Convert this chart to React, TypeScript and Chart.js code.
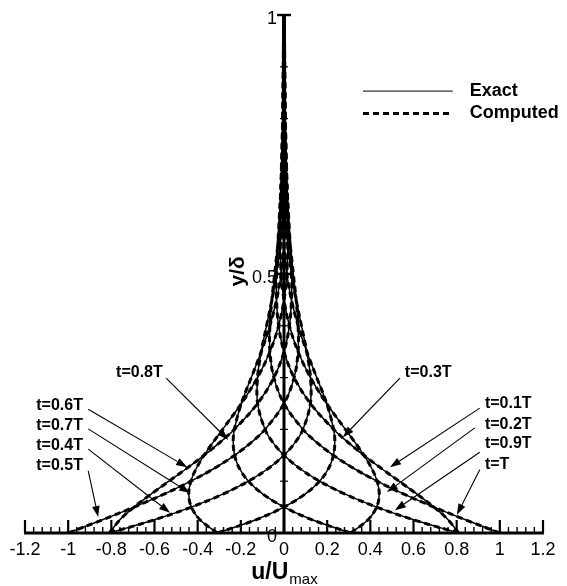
import React, { useEffect, useRef } from "react";
import { Chart, registerables } from "chart.js";

Chart.register(...registerables);

// y/δ sample positions (shared by every profile)
const ETA = [0, 0.025, 0.05, 0.075, 0.1, 0.125, 0.15, 0.175, 0.2, 0.25, 0.3, 0.35, 0.4, 0.45, 0.5, 0.6, 0.7, 0.8, 0.9, 1.0];

// u/Umax profiles, one per time instant
const U_T01 = [0.809, 0.7615, 0.6946, 0.6164, 0.5333, 0.4502, 0.3705, 0.2966, 0.2301, 0.1222, 0.0469, 0, -0.025, -0.0347, -0.0349, -0.023, -0.01, -0.002, 0.0011, 0.0015];
const U_T02 = [0.309, 0.388, 0.4293, 0.4413, 0.4314, 0.4061, 0.3705, 0.3288, 0.2844, 0.1977, 0.1227, 0.0652, 0.025, 0, -0.0133, -0.0186, -0.0123, -0.0053, -0.0011, 0.0006];
const U_T03 = [-0.309, -0.1337, 0, 0.0976, 0.1648, 0.2069, 0.2289, 0.2354, 0.2301, 0.1977, 0.1517, 0.1055, 0.0654, 0.0347, 0.0133, -0.0071, -0.01, -0.0065, -0.0028, -0.0006];
const U_T04 = [-0.809, -0.6043, -0.4293, -0.2833, -0.1648, -0.0713, 0, 0.0521, 0.0879, 0.1222, 0.1227, 0.1055, 0.0809, 0.0562, 0.0349, 0.0071, -0.0038, -0.0053, -0.0035, -0.0015];
const U_T05 = [-1, -0.8441, -0.6946, -0.5561, -0.4314, -0.3223, -0.2289, -0.1511, -0.0879, 0, 0.0469, 0.0652, 0.0654, 0.0562, 0.0432, 0.0186, 0.0038, -0.002, -0.0028, -0.0019];
const U_T06 = [-0.809, -0.7615, -0.6946, -0.6164, -0.5333, -0.4502, -0.3705, -0.2966, -0.2301, -0.1222, -0.0469, 0, 0.025, 0.0347, 0.0349, 0.023, 0.01, 0.002, -0.0011, -0.0015];
const U_T07 = [-0.309, -0.388, -0.4293, -0.4413, -0.4314, -0.4061, -0.3705, -0.3288, -0.2844, -0.1977, -0.1227, -0.0652, -0.025, 0, 0.0133, 0.0186, 0.0123, 0.0053, 0.0011, -0.0006];
const U_T08 = [0.309, 0.1337, 0, -0.0976, -0.1648, -0.2069, -0.2289, -0.2354, -0.2301, -0.1977, -0.1517, -0.1055, -0.0654, -0.0347, -0.0133, 0.0071, 0.01, 0.0065, 0.0028, 0.0006];
const U_T09 = [0.809, 0.6043, 0.4293, 0.2833, 0.1648, 0.0713, 0, -0.0521, -0.0879, -0.1222, -0.1227, -0.1055, -0.0809, -0.0562, -0.0349, -0.0071, 0.0038, 0.0053, 0.0035, 0.0015];
const U_T10 = [1, 0.8441, 0.6946, 0.5561, 0.4314, 0.3223, 0.2289, 0.1511, 0.0879, 0, -0.0469, -0.0652, -0.0654, -0.0562, -0.0432, -0.0186, -0.0038, 0.002, 0.0028, 0.0019];

const T_LABELS = ["t=0.1T", "t=0.2T", "t=0.3T", "t=0.4T", "t=0.5T", "t=0.6T", "t=0.7T", "t=0.8T", "t=0.9T", "t=T"];
const SERIES = [U_T01, U_T02, U_T03, U_T04, U_T05, U_T06, U_T07, U_T08, U_T09, U_T10];

const X_TICKS = [-1.2, -1, -0.8, -0.6, -0.4, -0.2, 0, 0.2, 0.4, 0.6, 0.8, 1, 1.2];
const X_TICK_LABELS = ["-1.2", "-1", "-0.8", "-0.6", "-0.4", "-0.2", "0", "0.2", "0.4", "0.6", "0.8", "1", "1.2"];
const Y_TICKS = [0, 0.5, 1];
const Y_TICK_LABELS = ["0", "0.5", "1"];

const LEGEND_LABELS = ["Exact", "Computed"];

// annotation callouts (data coordinates): text anchor, arrow start, arrow tip
const CALLOUTS = [
  { text: "t=0.8T", tx: -0.778, ty: 0.31, sx: -0.546, sy: 0.299, ex: -0.259, ey: 0.18 },
  { text: "t=0.6T", tx: -1.148, ty: 0.245, sx: -0.907, sy: 0.239, ex: -0.449, ey: 0.127 },
  { text: "t=0.7T", tx: -1.148, ty: 0.207, sx: -0.907, sy: 0.201, ex: -0.435, ey: 0.077 },
  { text: "t=0.4T", tx: -1.148, ty: 0.169, sx: -0.907, sy: 0.162, ex: -0.528, ey: 0.039 },
  { text: "t=0.5T", tx: -1.148, ty: 0.131, sx: -0.907, sy: 0.12, ex: -0.861, ey: 0.031 },
  { text: "t=0.3T", tx: 0.56, ty: 0.31, sx: 0.537, sy: 0.299, ex: 0.273, ey: 0.185 },
  { text: "t=0.1T", tx: 0.931, ty: 0.249, sx: 0.907, sy: 0.241, ex: 0.491, ey: 0.127 },
  { text: "t=0.2T", tx: 0.931, ty: 0.21, sx: 0.884, sy: 0.203, ex: 0.477, ey: 0.079 },
  { text: "t=0.9T", tx: 0.931, ty: 0.172, sx: 0.907, sy: 0.156, ex: 0.514, ey: 0.044 },
  { text: "t=T", tx: 0.931, ty: 0.133, sx: 0.907, sy: 0.122, ex: 0.801, ey: 0.035 },
];

const FONT = "'Liberation Sans', Arial, Helvetica, sans-serif";

const decorPlugin = {
  id: "decor",
  beforeDatasetsDraw(chart: any) {
    const ctx = chart.ctx;
    const xs = chart.scales.x;
    const ys = chart.scales.y;
    const x0 = xs.getPixelForValue(0);
    const y0 = ys.getPixelForValue(0);
    const yTop = ys.getPixelForValue(1);
    ctx.save();
    ctx.strokeStyle = "#000";
    ctx.lineCap = "butt";
    // x-axis line
    ctx.lineWidth = 2.8;
    ctx.beginPath();
    ctx.moveTo(xs.getPixelForValue(-1.2) - 1, y0);
    ctx.lineTo(xs.getPixelForValue(1.2) + 1, y0);
    ctx.stroke();
    // x major ticks
    ctx.lineWidth = 2.2;
    for (const v of X_TICKS) {
      const p = xs.getPixelForValue(v);
      ctx.beginPath();
      ctx.moveTo(p, y0);
      ctx.lineTo(p, y0 - 13);
      ctx.stroke();
    }
    // x minor ticks
    ctx.lineWidth = 1.4;
    for (let i = 0; i <= 60; i++) {
      const v = -1.2 + i * 0.04;
      if (i % 5 === 0) continue;
      const p = xs.getPixelForValue(v);
      ctx.beginPath();
      ctx.moveTo(p, y0);
      ctx.lineTo(p, y0 - 6);
      ctx.stroke();
    }
    // y-axis line
    ctx.lineWidth = 3;
    ctx.beginPath();
    ctx.moveTo(x0, y0);
    ctx.lineTo(x0, yTop);
    ctx.stroke();
    // y ticks
    for (let i = 1; i <= 10; i++) {
      const v = i / 10;
      const p = ys.getPixelForValue(v);
      const major = i === 5 || i === 10;
      ctx.lineWidth = major ? 2.4 : 1.2;
      const half = major ? 7 : 4;
      ctx.beginPath();
      ctx.moveTo(x0 - half, p);
      ctx.lineTo(x0 + half, p);
      ctx.stroke();
    }
    ctx.restore();
  },
  afterDatasetsDraw(chart: any) {
    const ctx = chart.ctx;
    const xs = chart.scales.x;
    const ys = chart.scales.y;
    const px = (v: number) => xs.getPixelForValue(v);
    const py = (v: number) => ys.getPixelForValue(v);
    ctx.save();
    ctx.fillStyle = "#000";
    ctx.strokeStyle = "#000";
    // callouts
    ctx.font = `bold 16px ${FONT}`;
    ctx.textAlign = "left";
    ctx.textBaseline = "middle";
    for (const c of CALLOUTS) {
      ctx.fillText(c.text, px(c.tx), py(c.ty));
      const sx = px(c.sx), sy = py(c.sy), ex = px(c.ex), ey = py(c.ey);
      const ang = Math.atan2(ey - sy, ex - sx);
      const L = 11, W = 3.8;
      const bx = ex - L * Math.cos(ang), by = ey - L * Math.sin(ang);
      ctx.lineWidth = 1.1;
      ctx.beginPath();
      ctx.moveTo(sx, sy);
      ctx.lineTo(bx, by);
      ctx.stroke();
      ctx.beginPath();
      ctx.moveTo(ex, ey);
      ctx.lineTo(bx + W * Math.sin(ang), by - W * Math.cos(ang));
      ctx.lineTo(bx - W * Math.sin(ang), by + W * Math.cos(ang));
      ctx.closePath();
      ctx.fill();
    }
    // legend
    const lx1 = px(0.366), lx2 = px(0.782), ltx = px(0.861);
    const ly1 = py(0.853), ly2 = py(0.81);
    ctx.strokeStyle = "#333";
    ctx.lineWidth = 1.4;
    ctx.beginPath();
    ctx.moveTo(lx1, ly1);
    ctx.lineTo(lx2, ly1);
    ctx.stroke();
    ctx.strokeStyle = "#000";
    ctx.lineWidth = 3;
    ctx.setLineDash([6, 4]);
    ctx.beginPath();
    ctx.moveTo(lx1, ly2);
    ctx.lineTo(lx2, ly2);
    ctx.stroke();
    ctx.setLineDash([]);
    ctx.font = `bold 18px ${FONT}`;
    ctx.fillText(LEGEND_LABELS[0], ltx, ly1);
    ctx.fillText(LEGEND_LABELS[1], ltx, ly2);

    // x-axis title u/U_max
    const area = chart.chartArea;
    const cx = px(0);
    ctx.textBaseline = "alphabetic";
    ctx.font = `bold 23px ${FONT}`;
    const main = "u/U";
    const w1 = ctx.measureText(main).width;
    ctx.font = `15px ${FONT}`;
    const w2 = ctx.measureText("max").width;
    const start = cx - (w1 + w2) / 2;
    ctx.font = `bold 23px ${FONT}`;
    ctx.fillText(main, start, area.bottom + 46);
    ctx.font = `15px ${FONT}`;
    ctx.fillText("max", start + w1 + 1, area.bottom + 51);

    // y-axis title y/δ (rotated)
    ctx.save();
    ctx.translate(px(-0.21), py(0.505));
    ctx.rotate(-Math.PI / 2);
    ctx.font = `bold 21px ${FONT}`;
    ctx.textAlign = "center";
    ctx.textBaseline = "middle";
    ctx.fillText("y/\u03b4", 0, 0);
    ctx.restore();
    ctx.restore();
  },
};

export default function App() {
  const ref = useRef<HTMLCanvasElement | null>(null);
  useEffect(() => {
    if (!ref.current) return;
    const datasets: any[] = [];
    SERIES.forEach((u, i) => {
      const pts = ETA.map((eta, j) => ({ x: u[j], y: eta }));
      datasets.push({
        label: `Computed ${T_LABELS[i]}`,
        data: pts,
        showLine: true,
        borderColor: "#000",
        borderWidth: 3,
        borderDash: [6, 4],
        pointRadius: 0,
        tension: 0.35,
        fill: false,
      });
      datasets.push({
        label: `Exact ${T_LABELS[i]}`,
        data: pts,
        showLine: true,
        borderColor: "#000",
        borderWidth: 1.5,
        pointRadius: 0,
        tension: 0.35,
        fill: false,
      });
    });
    const chart = new Chart(ref.current, {
      type: "scatter",
      data: { datasets },
      plugins: [decorPlugin],
      options: {
        animation: false,
        responsive: false,
        devicePixelRatio: 1,
        layout: { padding: { left: 25, right: 24, top: 15, bottom: 53 } },
        plugins: { legend: { display: false }, tooltip: { enabled: false } },
        scales: {
          x: {
            type: "linear",
            position: { y: 0 } as any,
            min: -1.2,
            max: 1.2,
            afterBuildTicks: (s: any) => {
              s.ticks = X_TICKS.map((v) => ({ value: v }));
            },
            grid: { display: false, drawTicks: false },
            border: { display: false },
            ticks: {
              autoSkip: false,
              maxRotation: 0,
              padding: 6,
              color: "#000",
              font: { family: FONT, size: 18 },
              callback: (_v: any, i: number) => X_TICK_LABELS[i],
            },
          },
          y: {
            type: "linear",
            position: { x: -0.032 } as any,
            min: 0,
            max: 1,
            afterBuildTicks: (s: any) => {
              s.ticks = Y_TICKS.map((v) => ({ value: v }));
            },
            grid: { display: false, drawTicks: false },
            border: { display: false },
            ticks: {
              autoSkip: false,
              padding: 0,
              labelOffset: 4,
              color: "#000",
              font: { family: FONT, size: 18 },
              callback: (_v: any, i: number) => Y_TICK_LABELS[i],
            },
          },
        },
      } as any,
    });
    return () => chart.destroy();
  }, []);
  return (
    <div style={{ position: "absolute", left: 0, top: 0, width: 567, height: 586, background: "#fff" }}>
      <canvas ref={ref} width={567} height={586} style={{ display: "block" }} />
    </div>
  );
}
